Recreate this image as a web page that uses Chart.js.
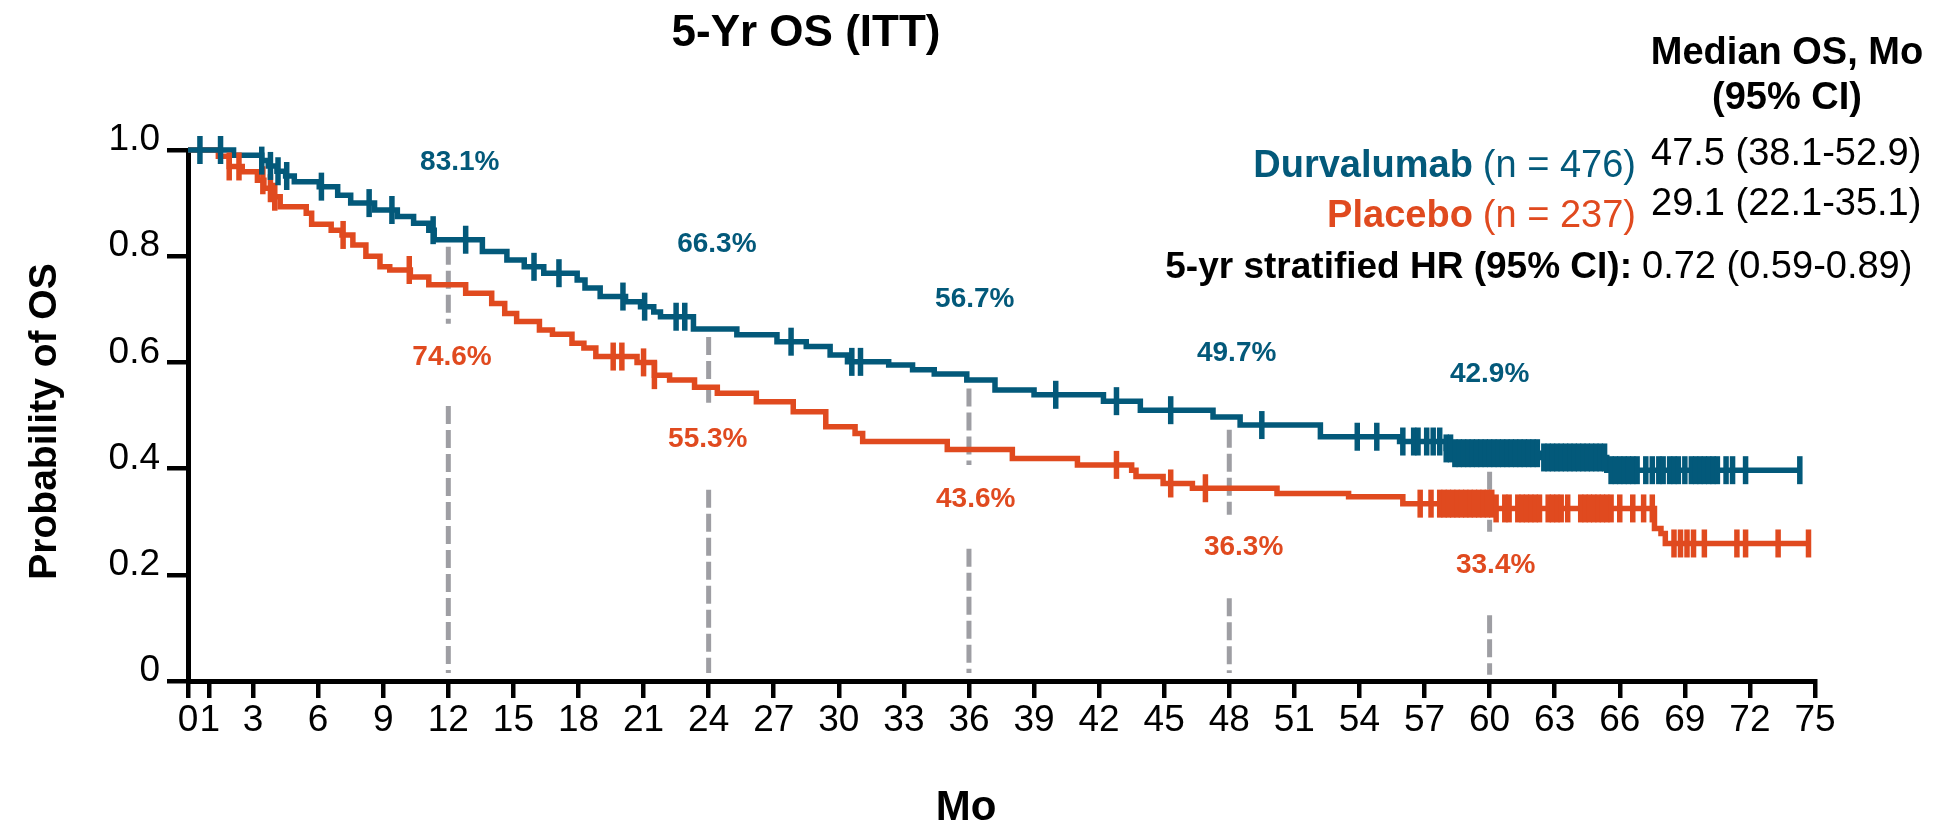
<!DOCTYPE html>
<html>
<head>
<meta charset="utf-8">
<script src="https://cdn.jsdelivr.net/npm/chart.js@4.4.1/dist/chart.umd.min.js"></script>
<style>
  html, body { margin: 0; padding: 0; background: #ffffff; }
  #wrap { width: 1942px; height: 823px; position: relative; }
</style>
</head>
<body>
<div id="wrap"><canvas id="km" width="1942" height="823"></canvas></div>
<script>
// ---- Kaplan-Meier overall survival, ITT population ----

// Durvalumab arm: event times (months) and survival after each step
const durvaStepMonths = [0, 2.1, 3.4, 3.7, 4.1, 4.5, 4.9, 6.05, 6.9, 7.5, 8.6, 9.65, 10.4, 11.1, 11.35,
  13.57, 14.7, 15.5, 16.4, 17.94, 18.3, 19.0, 20.17, 20.86, 21.47, 21.78, 23.3, 25.3, 27.15, 28.5,
  29.6, 30.4, 32.3, 33.4, 34.4, 35.9, 37.2, 39.0, 42.2, 43.9, 47.25, 48.5, 52.2, 55.85, 58.0, 58.3,
  62.4, 65.4, 74.3];
const durvaStepSurv = [1.0, 0.990, 0.980, 0.970, 0.960, 0.951, 0.940, 0.931, 0.915, 0.900, 0.887, 0.875,
  0.862, 0.849, 0.831, 0.809, 0.793, 0.780, 0.768, 0.755, 0.740, 0.724, 0.714, 0.705, 0.695, 0.686,
  0.663, 0.652, 0.639, 0.630, 0.614, 0.601, 0.595, 0.586, 0.578, 0.567, 0.548, 0.539, 0.527, 0.510,
  0.497, 0.482, 0.460, 0.451, 0.438, 0.429, 0.421, 0.397, 0.397];

// Placebo arm
const placeboStepMonths = [0, 1.4, 1.9, 2.5, 3.2, 3.5, 3.9, 4.25, 5.45, 5.7, 6.6, 7.1, 7.6, 8.2, 8.85,
  9.3, 10.25, 11.1, 12.8, 14.0, 14.6, 15.15, 16.2, 16.8, 17.7, 18.25, 18.8, 20.7, 21.5, 22.2, 23.35,
  24.4, 26.2, 27.9, 29.4, 30.75, 31.1, 35.0, 38.0, 41.0, 43.5, 43.7, 44.95, 46.3, 50.2, 53.5, 56.0,
  60.2, 67.6, 67.9, 68.1, 74.7];
const placeboStepSurv = [1.0, 0.988, 0.969, 0.959, 0.943, 0.928, 0.912, 0.893, 0.881, 0.860, 0.849,
  0.840, 0.821, 0.800, 0.780, 0.774, 0.761, 0.746, 0.730, 0.711, 0.692, 0.677, 0.661, 0.653, 0.636,
  0.627, 0.611, 0.600, 0.576, 0.567, 0.553, 0.542, 0.526, 0.507, 0.479, 0.466, 0.451, 0.436, 0.419,
  0.407, 0.397, 0.385, 0.372, 0.363, 0.353, 0.347, 0.334, 0.325, 0.287, 0.278, 0.259, 0.259];

// Censoring times (months)
const durvaCensorMonths = [0.55, 1.5, 3.4, 3.8, 4.15, 4.55, 6.15, 8.35, 9.4, 11.3, 12.8, 15.95, 17.1,
  20.05, 21.05, 22.5, 22.9, 27.8, 30.6, 31.0, 40.0, 42.8, 45.3, 49.5, 53.9, 54.8,
  56.0, 56.5, 56.7, 57.1, 57.4, 57.7, 58.0,
  58.2, 58.4, 58.6, 58.8, 59.0, 59.2, 59.4, 59.6, 59.8, 60.0, 60.2, 60.4, 60.6, 60.8, 61.0, 61.2,
  61.4, 61.6, 61.8, 62.0, 62.2, 62.5, 62.7, 62.9, 63.1, 63.3, 63.5, 63.7, 63.9, 64.1, 64.3, 64.5,
  64.7, 64.9, 65.1, 65.3,
  65.6, 65.8, 66.0, 66.2, 66.4, 66.6, 66.8, 67.2, 67.5, 67.8, 68.0, 68.3, 68.5, 68.7, 69.0, 69.3,
  69.5, 69.7, 69.9, 70.1, 70.3, 70.5, 70.9, 71.2, 71.8, 74.3];
const placeboCensorMonths = [1.9, 2.35, 3.45, 3.8, 4.0, 7.15, 10.2, 19.6, 20.0, 21.0, 21.5, 42.8, 45.3,
  46.9, 56.8, 57.3,
  57.7, 57.9, 58.1, 58.3, 58.5, 58.7, 58.9, 59.1, 59.3, 59.5, 59.7, 59.9, 60.1, 60.3,
  60.7, 60.9, 61.3, 61.5, 61.7, 61.9, 62.1, 62.3, 62.7, 62.9, 63.1, 63.3, 63.6,
  64.2, 64.4, 64.6, 64.8, 65.0, 65.2, 65.4, 65.6, 66.0, 66.6, 67.1, 67.5,
  68.5, 68.8, 69.1, 69.4, 69.9, 71.4, 71.8, 73.3, 74.7];

// Landmark OS rates (%)
const landmarkMonths = [12, 24, 36, 48, 60];
const durvaLandmarkPct = [83.1, 66.3, 56.7, 49.7, 42.9];
const placeboLandmarkPct = [74.6, 55.3, 43.6, 36.3, 33.4];

// Axis ticks
const xTickValues = [0, 1, 3, 6, 9, 12, 15, 18, 21, 24, 27, 30, 33, 36, 39, 42, 45, 48, 51, 54, 57,
  60, 63, 66, 69, 72, 75];
const yTickValues = [0, 0.2, 0.4, 0.6, 0.8, 1.0];

// Summary statistics
const armNames = ['Durvalumab', 'Placebo'];
const armN = [476, 237];
const medianOS = ['47.5 (38.1-52.9)', '29.1 (22.1-35.1)'];
const hazardRatio = '0.72 (0.59-0.89)';

// ---- layout / style ----
const BLUE = '#03597a';
const ORANGE = '#e04a1f';
const GUIDE = '#9e9ea3';
const FONT = '"Liberation Sans", Arial, sans-serif';

// vertical extents of the dashed landmark guides: [upper segment], [lower segment] (probability units)
const guideSpans = [
  [[0.818, 0.673], [0.518, 0.015]],
  [[0.648, 0.524], [0.360, 0.015]],
  [[0.551, 0.407], [0.249, 0.015]],
  [[0.473, 0.313], [0.156, 0.015]],
  [[0.394, 0.281], [0.124, 0.012]]
];
// label anchors [month, probability] for the landmark percentages
const durvaLabelAt = [[12.53, 0.981], [24.38, 0.827], [36.27, 0.723], [48.34, 0.6215], [60.0, 0.582]];
const placeboLabelAt = [[12.17, 0.614], [23.96, 0.4595], [36.31, 0.3465], [48.66, 0.256], [60.28, 0.222]];

function stepPoints(months, surv) {
  return months.map((m, i) => ({ x: m, y: surv[i] }));
}
function survivalAt(months, surv, t) {
  let v = surv[0];
  for (let i = 0; i < months.length; i++) {
    if (months[i] <= t) v = surv[i]; else break;
  }
  return v;
}
function censorPoints(censor, months, surv) {
  return censor.map(t => ({ x: t, y: survivalAt(months, surv, t) }));
}

const guideDatasets = [];
landmarkMonths.forEach((m, i) => {
  guideSpans[i].forEach(span => {
    guideDatasets.push({
      type: 'line',
      data: [{ x: m, y: span[0] }, { x: m, y: span[1] }],
      borderColor: GUIDE,
      borderWidth: 5,
      borderDash: [18, 6],
      pointRadius: 0,
      clip: false,
      order: 10
    });
  });
});

const textPlugin = {
  id: 'kmText',
  afterDraw(chart) {
    const ctx = chart.ctx;
    const xs = chart.scales.x, ys = chart.scales.y;
    ctx.save();
    ctx.textBaseline = 'alphabetic';

    // title
    ctx.fillStyle = '#000';
    ctx.font = `bold 44px ${FONT}`;
    ctx.textAlign = 'center';
    ctx.fillText('5-Yr OS (ITT)', 806, 46);

    // axis titles
    ctx.font = `bold 42px ${FONT}`;
    ctx.fillText('Mo', 966, 820);
    ctx.save();
    ctx.translate(56, (ys.top + ys.bottom) / 2 + 6);
    ctx.rotate(-Math.PI / 2);
    ctx.font = `bold 39px ${FONT}`;
    ctx.fillText('Probability of OS', 0, 0);
    ctx.restore();

    // landmark percentages
    ctx.font = `bold 28px ${FONT}`;
    ctx.textAlign = 'center';
    landmarkMonths.forEach((m, i) => {
      ctx.fillStyle = BLUE;
      ctx.fillText(durvaLandmarkPct[i].toFixed(1) + '%',
        xs.getPixelForValue(durvaLabelAt[i][0]), ys.getPixelForValue(durvaLabelAt[i][1]) + 10);
      ctx.fillStyle = ORANGE;
      ctx.fillText(placeboLandmarkPct[i].toFixed(1) + '%',
        xs.getPixelForValue(placeboLabelAt[i][0]), ys.getPixelForValue(placeboLabelAt[i][1]) + 10);
    });

    // summary block
    ctx.fillStyle = '#000';
    ctx.font = `bold 38px ${FONT}`;
    ctx.textAlign = 'center';
    ctx.fillText('Median OS, Mo', 1787, 64);
    ctx.fillText('(95% CI)', 1787, 109);

    ctx.font = `38px ${FONT}`;
    ctx.textAlign = 'left';
    ctx.fillText(medianOS[0], 1651, 165);
    ctx.fillText(medianOS[1], 1651, 215);

    const armColors = [BLUE, ORANGE];
    const armBase = [177, 227];
    armNames.forEach((name, i) => {
      ctx.fillStyle = armColors[i];
      ctx.font = `38px ${FONT}`;
      ctx.textAlign = 'right';
      const nText = `(n = ${armN[i]})`;
      ctx.fillText(nText, 1636, armBase[i]);
      const w = ctx.measureText(nText).width;
      ctx.font = `bold 38px ${FONT}`;
      ctx.fillText(name, 1636 - w - 10, armBase[i]);
    });

    ctx.fillStyle = '#000';
    ctx.font = `38px ${FONT}`;
    ctx.textAlign = 'left';
    ctx.fillText(hazardRatio, 1642, 278);
    ctx.font = `bold 37px ${FONT}`;
    ctx.textAlign = 'right';
    ctx.fillText('5-yr stratified HR (95% CI):', 1632, 278);

    ctx.restore();
  }
};

new Chart(document.getElementById('km'), {
  type: 'line',
  data: {
    datasets: [
      {
        label: 'Durvalumab',
        data: stepPoints(durvaStepMonths, durvaStepSurv),
        borderColor: BLUE, borderWidth: 5.5, stepped: 'before',
        pointRadius: 0, fill: false, clip: false, order: 2
      },
      {
        label: 'Placebo',
        data: stepPoints(placeboStepMonths, placeboStepSurv),
        borderColor: ORANGE, borderWidth: 5.5, stepped: 'before',
        pointRadius: 0, fill: false, clip: false, order: 3
      },
      {
        type: 'scatter', label: 'Durvalumab censored',
        data: censorPoints(durvaCensorMonths, durvaStepMonths, durvaStepSurv),
        pointStyle: 'line', pointRotation: 90, pointRadius: 14, pointBorderWidth: 5.5,
        borderColor: BLUE, backgroundColor: BLUE, clip: false, order: 0
      },
      {
        type: 'scatter', label: 'Placebo censored',
        data: censorPoints(placeboCensorMonths, placeboStepMonths, placeboStepSurv),
        pointStyle: 'line', pointRotation: 90, pointRadius: 14, pointBorderWidth: 5.5,
        borderColor: ORANGE, backgroundColor: ORANGE, clip: false, order: 1
      },
      ...guideDatasets
    ]
  },
  options: {
    responsive: false,
    devicePixelRatio: 1,
    animation: false,
    events: [],
    layout: { padding: { left: 0, top: 150, right: 127, bottom: 0 } },
    plugins: { legend: { display: false }, tooltip: { enabled: false }, title: { display: false } },
    scales: {
      x: {
        type: 'linear', min: 0, max: 75,
        afterBuildTicks: s => { s.ticks = xTickValues.map(v => ({ value: v })); },
        afterFit: s => { s.height = 142; },
        ticks: { autoSkip: false, maxRotation: 0, color: '#000', padding: 1,
          font: { family: FONT, size: 37 } },
        grid: { drawOnChartArea: false, drawTicks: true, tickLength: 17, tickWidth: 4.5,
          tickColor: '#000', color: '#000', lineWidth: 4.5 },
        border: { display: true, color: '#000', width: 5 }
      },
      y: {
        type: 'linear', min: 0, max: 1,
        afterBuildTicks: s => { s.ticks = yTickValues.map(v => ({ value: v })); },
        afterFit: s => { s.width = 188; },
        ticks: { color: '#000', padding: 7, labelOffset: -10,
          font: { family: FONT, size: 37 },
          callback: v => (v === 0 ? '0' : v.toFixed(1)) },
        grid: { drawOnChartArea: false, drawTicks: true, tickLength: 21, tickWidth: 4.5,
          tickColor: '#000', color: '#000', lineWidth: 4.5 },
        border: { display: true, color: '#000', width: 5 }
      }
    }
  },
  plugins: [textPlugin]
});
</script>
</body>
</html>
